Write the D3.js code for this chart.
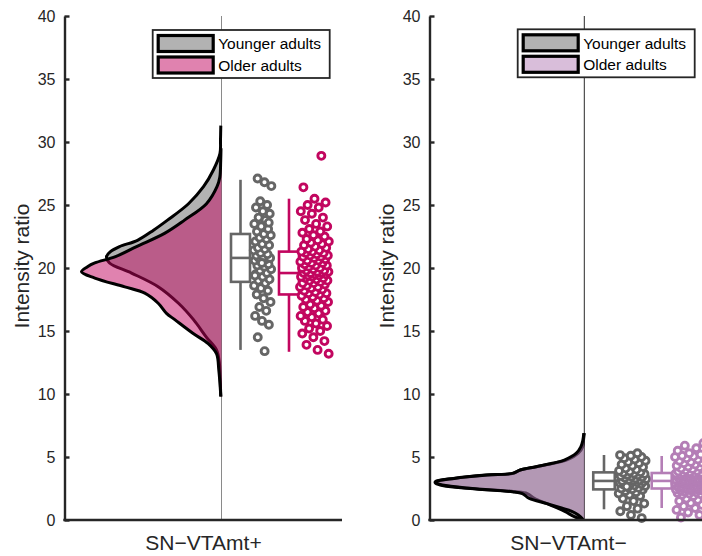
<!DOCTYPE html>
<html>
<head>
<meta charset="utf-8">
<script src="https://cdn.jsdelivr.net/npm/d3@7"></script>
<style>
  html, body { margin: 0; padding: 0; background: #fff; }
  svg { display: block; font-family: "Liberation Sans", Arial, Helvetica, sans-serif; }
</style>
</head>
<body>
<svg id="chart" width="702" height="556"></svg>
<script>
// ---- Data -------------------------------------------------------------
const groups = ["Younger adults", "Older adults"];
const regions = ["SN\u2212VTAmt+", "SN\u2212VTAmt\u2212"];
const yTicks = [0, 5, 10, 15, 20, 25, 30, 35, 40];

// Kernel density profiles: [intensity ratio, relative density]
const densPlusYounger = [
  [9.8, 0.007], [10.5, 0.01], [11.5, 0.015], [12.5, 0.022], [13.5, 0.05], [14.5, 0.15],
  [15.9, 0.28], [17.2, 0.43], [18.5, 0.63], [19.6, 0.90], [20.4, 1.12], [20.9, 1.15],
  [21.3, 1.11], [21.7, 1.02], [22.2, 0.84], [23.0, 0.68], [23.8, 0.54], [25.1, 0.33],
  [26.45, 0.18], [27.8, 0.08], [29.1, 0.015], [30.2, 0.01], [31.3, 0.007]
];
const densPlusOlder = [
  [9.8, 0.007], [10.8, 0.015], [11.9, 0.027], [13.2, 0.05], [14.0, 0.133], [14.8, 0.283],
  [15.9, 0.467], [16.4, 0.55], [17.2, 0.633], [18.0, 0.767], [18.5, 0.967], [19.2, 1.267],
  [19.7, 1.40], [20.1, 1.34], [20.4, 1.267], [20.9, 1.06], [21.7, 0.85], [22.75, 0.57],
  [23.8, 0.37], [25.1, 0.15], [26.45, 0.045], [27.2, 0.017], [28.5, 0.008], [29.5, 0.005]
];
const densMinusYounger = [
  [-0.3, 0.0], [0.0, 0.02], [0.26, 0.10], [0.66, 0.19], [0.93, 0.26], [1.32, 0.38],
  [1.72, 0.50], [2.1, 0.57], [2.25, 0.70], [2.5, 1.14], [2.78, 1.44], [2.95, 1.49],
  [3.04, 1.49], [3.3, 1.31], [3.57, 0.98], [3.7, 0.71], [3.97, 0.64], [4.23, 0.48],
  [4.5, 0.31], [4.76, 0.18], [5.3, 0.06], [5.8, 0.017], [6.5, 0.006], [6.9, 0.0]
];
const densMinusOlder = [
  [-0.2, 0.0], [0.1, 0.02], [0.4, 0.06], [0.7, 0.13], [0.93, 0.22], [1.32, 0.38],
  [1.72, 0.55], [2.1, 0.62], [2.25, 0.72], [2.5, 1.12], [2.78, 1.42], [2.95, 1.48],
  [3.04, 1.48], [3.3, 1.30], [3.57, 0.97], [3.7, 0.72], [3.97, 0.64], [4.23, 0.48],
  [4.5, 0.32], [4.76, 0.20], [5.3, 0.08], [5.8, 0.035], [6.3, 0.015], [6.9, 0.005]
];

// Box summaries: [lower whisker, Q1, median, Q3, upper whisker]
const boxPlusYounger = [13.5, 18.9, 20.8, 22.7, 27.0];
const boxPlusOlder = [13.35, 17.9, 19.6, 21.3, 25.5];
const boxMinusYounger = [0.85, 2.43, 3.1, 3.78, 5.16];
const boxMinusOlder = [0.95, 2.5, 3.1, 3.73, 5.08];

// Individual participants
const ptsPlusYounger = [
  13.4, 14.5, 15.5, 15.8, 16.2, 16.6, 16.9, 17.3, 17.6, 17.9,
  18.2, 18.4, 18.6, 18.8, 19.0, 19.1, 19.3, 19.5, 19.6, 19.8,
  19.9, 20.1, 20.2, 20.3, 20.5, 20.6, 20.7, 20.8, 20.8, 20.9,
  21.0, 21.1, 21.2, 21.4, 21.5, 21.6, 21.8, 21.9, 22.1, 22.3,
  22.4, 22.6, 22.7, 22.9, 23.1, 23.3, 23.5, 23.8, 24.0, 24.3,
  24.5, 24.8, 25.0, 25.3, 26.5, 26.8, 27.1, 23.6, 20.4, 19.4
];
const ptsPlusOlder = [
  13.2, 13.5, 13.9, 14.2, 14.5, 14.8, 15.0, 15.2, 15.4, 15.6, 15.8, 15.9, 16.1, 16.2,
  16.4, 16.5, 16.6, 16.8, 16.9, 17.0, 17.1, 17.3, 17.4, 17.5, 17.6, 17.7, 17.8,
  17.9, 18.0, 18.0, 18.1, 18.2, 18.3, 18.4, 18.5, 18.5, 18.6, 18.7, 18.8, 18.8, 18.9,
  19.0, 19.0, 19.1, 19.2, 19.2, 19.3, 19.3, 19.4, 19.4, 19.5, 19.5, 19.6, 19.6, 19.6,
  19.7, 19.7, 19.8, 19.8, 19.9, 20.0, 20.0, 20.1, 20.2, 20.2, 20.3, 20.4, 20.4, 20.5,
  20.6, 20.6, 20.7, 20.8, 20.9, 20.9, 21.0, 21.0, 21.1, 21.2, 21.2, 21.3, 21.3,
  21.4, 21.5, 21.6, 21.7, 21.8, 21.9, 22.0, 22.1, 22.2, 22.3, 22.5, 22.6, 22.8, 22.9,
  23.1, 23.3, 23.5, 23.8, 24.0, 24.3, 24.5, 24.8, 25.0, 25.2, 25.5, 26.4, 28.9
];
const ptsMinusYounger = [
  0.15, 0.4, 0.7, 0.9, 1.1, 1.3, 1.5, 1.7, 1.9, 2.0, 2.1, 2.2, 2.3, 2.4, 2.45,
  2.5, 2.55, 2.6, 2.7, 2.75, 2.8, 2.85, 2.9, 2.95, 3.0, 3.0, 3.05, 3.1, 3.1, 3.15,
  3.2, 3.25, 3.3, 3.35, 3.4, 3.45, 3.5, 3.55, 3.6, 3.65, 3.7, 3.75, 3.8, 3.85, 3.9,
  4.0, 4.1, 4.2, 4.3, 4.4, 4.5, 4.6, 4.7, 4.8, 4.9, 5.0, 5.1, 5.15, 5.3, 2.65
];
const ptsMinusOlder = [
  0.2, 0.4, 0.6, 0.8, 0.95, 1.1, 1.2, 1.35, 1.5, 1.6, 1.7, 1.8, 1.9, 2.0, 2.05, 2.1,
  2.15, 2.2, 2.25, 2.3, 2.32, 2.35, 2.38, 2.4, 2.43, 2.46, 2.48,
  2.5, 2.52, 2.55, 2.57, 2.6, 2.62, 2.65, 2.67, 2.7, 2.72, 2.75, 2.77, 2.8, 2.82,
  2.85, 2.87, 2.9, 2.92, 2.94, 2.96, 2.98, 3.0, 3.02, 3.04, 3.06, 3.07, 3.08, 3.1,
  3.12, 3.14, 3.16, 3.18, 3.2, 3.22, 3.25, 3.27, 3.3, 3.32, 3.35, 3.37, 3.4, 3.42,
  3.45, 3.47, 3.5, 3.52, 3.55, 3.57, 3.6, 3.62, 3.65, 3.67, 3.7, 3.72, 3.73,
  3.76, 3.8, 3.85, 3.9, 3.95, 4.0, 4.05, 4.1, 4.2, 4.25, 4.3, 4.4, 4.5, 4.55, 4.6,
  4.7, 4.8, 4.9, 5.0, 5.05, 5.1, 5.2, 5.3, 5.5, 5.7, 5.9, 6.1
];

// ---- Layout -----------------------------------------------------------
const GRAY = "#666666";
const AXIS = "#262626";

const panels = [
  {
    region: regions[0], left: 64.5, right: 342, cat: 221.5, catLine: "#8a8a8a", labelX: 28.5,
    legend: { x: 152.7, y: 30 },
    colors: [GRAY, "#c2065f"],
    dens: [densPlusYounger, densPlusOlder],
    box: [boxPlusYounger, boxPlusOlder],
    pts: [ptsPlusYounger, ptsPlusOlder],
    boxX: [240.5, 289], boxW: [19, 20],
    dotX: [262.5, 314.5], dotSpread: [18, 29]
  },
  {
    region: regions[1], left: 429.5, right: 740, cat: 584.3, catLine: "#2a2a2a", labelX: 393.5,
    legend: { x: 517.7, y: 29.3 },
    colors: [GRAY, "#b47eb6"],
    dens: [densMinusYounger, densMinusOlder],
    box: [boxMinusYounger, boxMinusOlder],
    pts: [ptsMinusYounger, ptsMinusOlder],
    boxX: [604, 661.7], boxW: [21.5, 20],
    dotX: [632.5, 690], dotSpread: [28, 30]
  }
];

const svg = d3.select("#chart");
const y = d3.scaleLinear().domain([0, 40]).range([520, 16]);
const w = d3.scaleLinear().domain([0, 1]).range([0, 100]);
const curve = d3.curveCatmullRom.alpha(0.5);
const PHI = 0.6180339887;

panels.forEach((p, pi) => {
  const g = svg.append("g");

  // clip the half-violins to the axes box
  const clipId = "clip" + pi;
  svg.append("defs").append("clipPath").attr("id", clipId)
    .append("rect").attr("x", p.left).attr("y", y(40))
    .attr("width", p.right - p.left).attr("height", y(0) - y(40));

  // category reference line
  g.append("line")
    .attr("x1", p.cat).attr("x2", p.cat).attr("y1", y(40)).attr("y2", y(0))
    .attr("stroke", p.catLine).attr("stroke-width", 1);

  // half violins (younger first, older on top)
  const vg = g.append("g").attr("clip-path", `url(#${clipId})`);
  const area = d3.area().curve(curve)
    .y(d => y(d[0])).x0(p.cat).x1(d => p.cat - w(d[1]));
  const line = d3.line().curve(curve)
    .x(d => p.cat - w(d[1])).y(d => y(d[0]));
  p.dens.forEach((dens, gi) => {
    vg.append("path").attr("d", area(dens))
      .attr("fill", p.colors[gi]).attr("fill-opacity", 0.5);
    vg.append("path").attr("d", line(dens))
      .attr("fill", "none").attr("stroke", "#000").attr("stroke-width", 3)
      .attr("stroke-linejoin", "round").attr("stroke-linecap", "butt");
  });

  // box plots and individual points
  p.box.forEach((b, gi) => {
    const cx = p.boxX[gi], bw = p.boxW[gi], col = p.colors[gi];
    const bg = g.append("g").attr("stroke", col).attr("stroke-width", 2.6).attr("fill", "#fff");
    bg.append("line").attr("x1", cx).attr("x2", cx).attr("y1", y(b[0])).attr("y2", y(b[1]));
    bg.append("line").attr("x1", cx).attr("x2", cx).attr("y1", y(b[3])).attr("y2", y(b[4]));
    bg.append("rect").attr("x", cx - bw / 2).attr("width", bw)
      .attr("y", y(b[3])).attr("height", y(b[1]) - y(b[3]));
    bg.append("line").attr("x1", cx - bw / 2).attr("x2", cx + bw / 2)
      .attr("y1", y(b[2])).attr("y2", y(b[2]));

    const pts = p.pts[gi];
    g.append("g").selectAll("circle").data(pts).join("circle")
      .attr("cx", (d, i) => p.dotX[gi] + ((((i + 1) * PHI + gi * 0.37 + pi * 0.21) % 1) - 0.5) * p.dotSpread[gi])
      .attr("cy", d => y(d))
      .attr("r", 3.5)
      .attr("fill", "#fff").attr("stroke", col).attr("stroke-width", 2.9);
  });

  // y axis (ticks pointing inward)
  const yAxis = d3.axisLeft(y).tickValues(yTicks).tickFormat(d3.format("d"))
    .tickSizeInner(-5).tickSizeOuter(0).tickPadding(9);
  const ya = g.append("g").attr("transform", `translate(${p.left},0)`).call(yAxis);
  ya.select(".domain").attr("stroke", AXIS).attr("stroke-width", 2.4);
  ya.selectAll(".tick line").attr("stroke", AXIS).attr("stroke-width", 2.4);
  ya.selectAll(".tick text").attr("fill", AXIS).style("font-size", "16px")
    .style("font-family", "'Liberation Sans', Arial, sans-serif");

  // x axis with the single region label
  const x = d3.scalePoint().domain([p.region]).range([p.left, p.left + 277]).padding(0.5);
  const xAxis = d3.axisBottom(x).tickSize(0).tickPadding(15);
  const xa = g.append("g").attr("transform", `translate(0,${y(0)})`).call(xAxis);
  xa.select(".domain").remove();
  xa.selectAll(".tick text").attr("fill", AXIS).style("font-size", "21px")
    .style("font-family", "'Liberation Sans', Arial, sans-serif");
  g.append("line").attr("x1", p.left - 1.2).attr("x2", p.right)
    .attr("y1", y(0)).attr("y2", y(0)).attr("stroke", AXIS).attr("stroke-width", 2.4);

  // y axis title
  g.append("text")
    .attr("transform", `translate(${p.labelX},${(y(0) + y(40)) / 2 - 2}) rotate(-90)`)
    .attr("text-anchor", "middle").attr("fill", AXIS)
    .style("font-size", "21px").text("Intensity ratio");

  // legend
  const lg = g.append("g").attr("transform", `translate(${p.legend.x},${p.legend.y})`);
  lg.append("rect").attr("width", 177).attr("height", 48)
    .attr("fill", "#fff").attr("stroke", AXIS).attr("stroke-width", 1.8);
  groups.forEach((name, gi) => {
    const row = lg.append("g").attr("transform", `translate(0,${gi * 21.5})`);
    row.append("rect").attr("x", 5.5).attr("y", 5.5).attr("width", 55).attr("height", 16)
      .attr("fill", p.colors[gi]).attr("fill-opacity", 0.5)
      .attr("stroke", "#000").attr("stroke-width", 3.2);
    row.append("text").attr("x", 65.5).attr("y", 19.3).attr("fill", "#000")
      .style("font-size", "15.5px").text(name);
  });
});
</script>
</body>
</html>
